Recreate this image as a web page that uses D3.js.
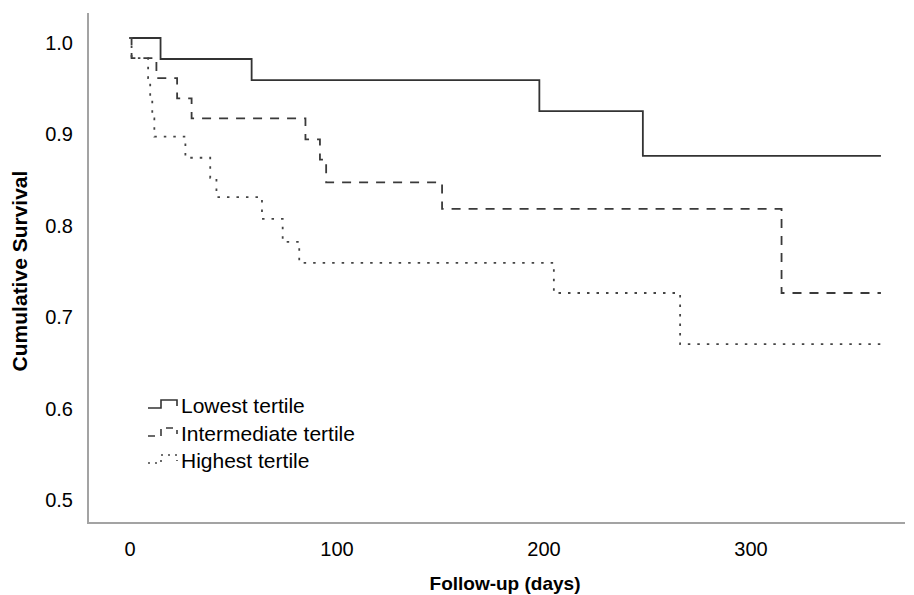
<!DOCTYPE html>
<html>
<head>
<meta charset="utf-8">
<script src="https://cdn.jsdelivr.net/npm/d3@7"></script>
<style>
  html, body { margin: 0; padding: 0; background: #fff; }
  svg { display: block; }
  text { font-family: "Liberation Sans", Arial, sans-serif; fill: #000; }
</style>
</head>
<body>
<svg id="chart" width="914" height="595"></svg>
<script>
// ---- Data ----
const seriesNames = ["Lowest tertile", "Intermediate tertile", "Highest tertile"];

const lowestDays = [0, 15, 59, 198, 248, 363];
const lowestSurv = [1.0, 0.977, 0.954, 0.920, 0.871, 0.871];

const interDays = [0, 1, 13, 23, 30, 85, 92, 95, 151, 315, 363];
const interSurv = [1.0, 0.978, 0.956, 0.934, 0.912, 0.889, 0.867, 0.842, 0.813, 0.721, 0.721];

const highDays = [0, 1, 9, 10, 11, 12, 27, 39, 42, 64, 74, 82, 205, 266, 363];
const highSurv = [1.0, 0.978, 0.956, 0.934, 0.912, 0.892, 0.869, 0.847, 0.826, 0.802, 0.777, 0.754, 0.721, 0.665, 0.665];

const xTicks = [0, 100, 200, 300];
const yTicks = [0.5, 0.6, 0.7, 0.8, 0.9, 1.0];

// ---- Layout ----
const svg = d3.select("#chart");
const x = d3.scaleLinear().domain([0, 100]).range([129.5, 336.5]);
const y = d3.scaleLinear().domain([0.5, 1.0]).range([495, 38]);

const axisLeftX = 88, axisBottomY = 523;
const axisColor = "#a3a3a3";

// axes lines
svg.append("line").attr("x1", axisLeftX).attr("x2", axisLeftX)
  .attr("y1", 13).attr("y2", axisBottomY + 1)
  .attr("stroke", axisColor).attr("stroke-width", 2);
svg.append("line").attr("x1", axisLeftX - 1).attr("x2", 905)
  .attr("y1", axisBottomY).attr("y2", axisBottomY)
  .attr("stroke", axisColor).attr("stroke-width", 2);

// y axis ticks (labels only)
const yAxis = d3.axisLeft(y).tickValues(yTicks).tickFormat(d3.format(".1f")).tickSize(0).tickPadding(0);
const gy = svg.append("g").attr("transform", `translate(${axisLeftX - 15},5)`).call(yAxis);
gy.select(".domain").remove();
gy.selectAll("text").attr("font-size", 20).attr("font-family", "Liberation Sans, Arial, sans-serif").attr("fill", "#000");

// x axis ticks (labels only)
const xAxis = d3.axisBottom(x).tickValues(xTicks).tickFormat(d3.format("d")).tickSize(0).tickPadding(0);
const gx = svg.append("g").attr("transform", `translate(0,${axisBottomY + 19})`).call(xAxis);
gx.select(".domain").remove();
gx.selectAll("text").attr("font-size", 20).attr("font-family", "Liberation Sans, Arial, sans-serif").attr("fill", "#000");

// axis titles
svg.append("text")
  .attr("transform", "translate(27,271) rotate(-90)")
  .attr("text-anchor", "middle")
  .attr("font-size", 21).attr("font-weight", "bold")
  .text("Cumulative Survival");
svg.append("text")
  .attr("x", 505).attr("y", 590)
  .attr("text-anchor", "middle")
  .attr("font-size", 19).attr("font-weight", "bold")
  .text("Follow-up (days)");

// ---- Curves ----
const line = d3.line().x(d => x(d[0])).y(d => y(d[1])).curve(d3.curveStepAfter);
const styles = [
  { color: "#333", dash: null, width: 1.8 },
  { color: "#3a3a3a", dash: "9,8", width: 1.8 },
  { color: "#444", dash: "2.5,7", width: 1.8 }
];
const series = [
  d3.zip(lowestDays, lowestSurv),
  d3.zip(interDays, interSurv),
  d3.zip(highDays, highSurv)
];

series.forEach((pts, i) => {
  svg.append("path").datum(pts)
    .attr("d", line)
    .attr("fill", "none")
    .attr("stroke", styles[i].color)
    .attr("stroke-width", styles[i].width)
    .attr("stroke-dasharray", styles[i].dash);
});

// ---- Legend ----
const legY = [405, 433, 460];
seriesNames.forEach((name, i) => {
  const by = legY[i];
  const p = d3.path();
  p.moveTo(148, by + 3); p.lineTo(161, by + 3); p.lineTo(161, by - 5);
  p.lineTo(177, by - 5); p.lineTo(177, by + 1);
  svg.append("path").attr("d", p.toString())
    .attr("fill", "none")
    .attr("stroke", styles[i].color)
    .attr("stroke-width", 1.6)
    .attr("stroke-dasharray", i === 0 ? null : (i === 1 ? "7,6" : "2,5"));
  svg.append("text").attr("x", 181).attr("y", by + 8)
    .attr("font-size", 21)
    .text(name);
});
</script>
</body>
</html>
